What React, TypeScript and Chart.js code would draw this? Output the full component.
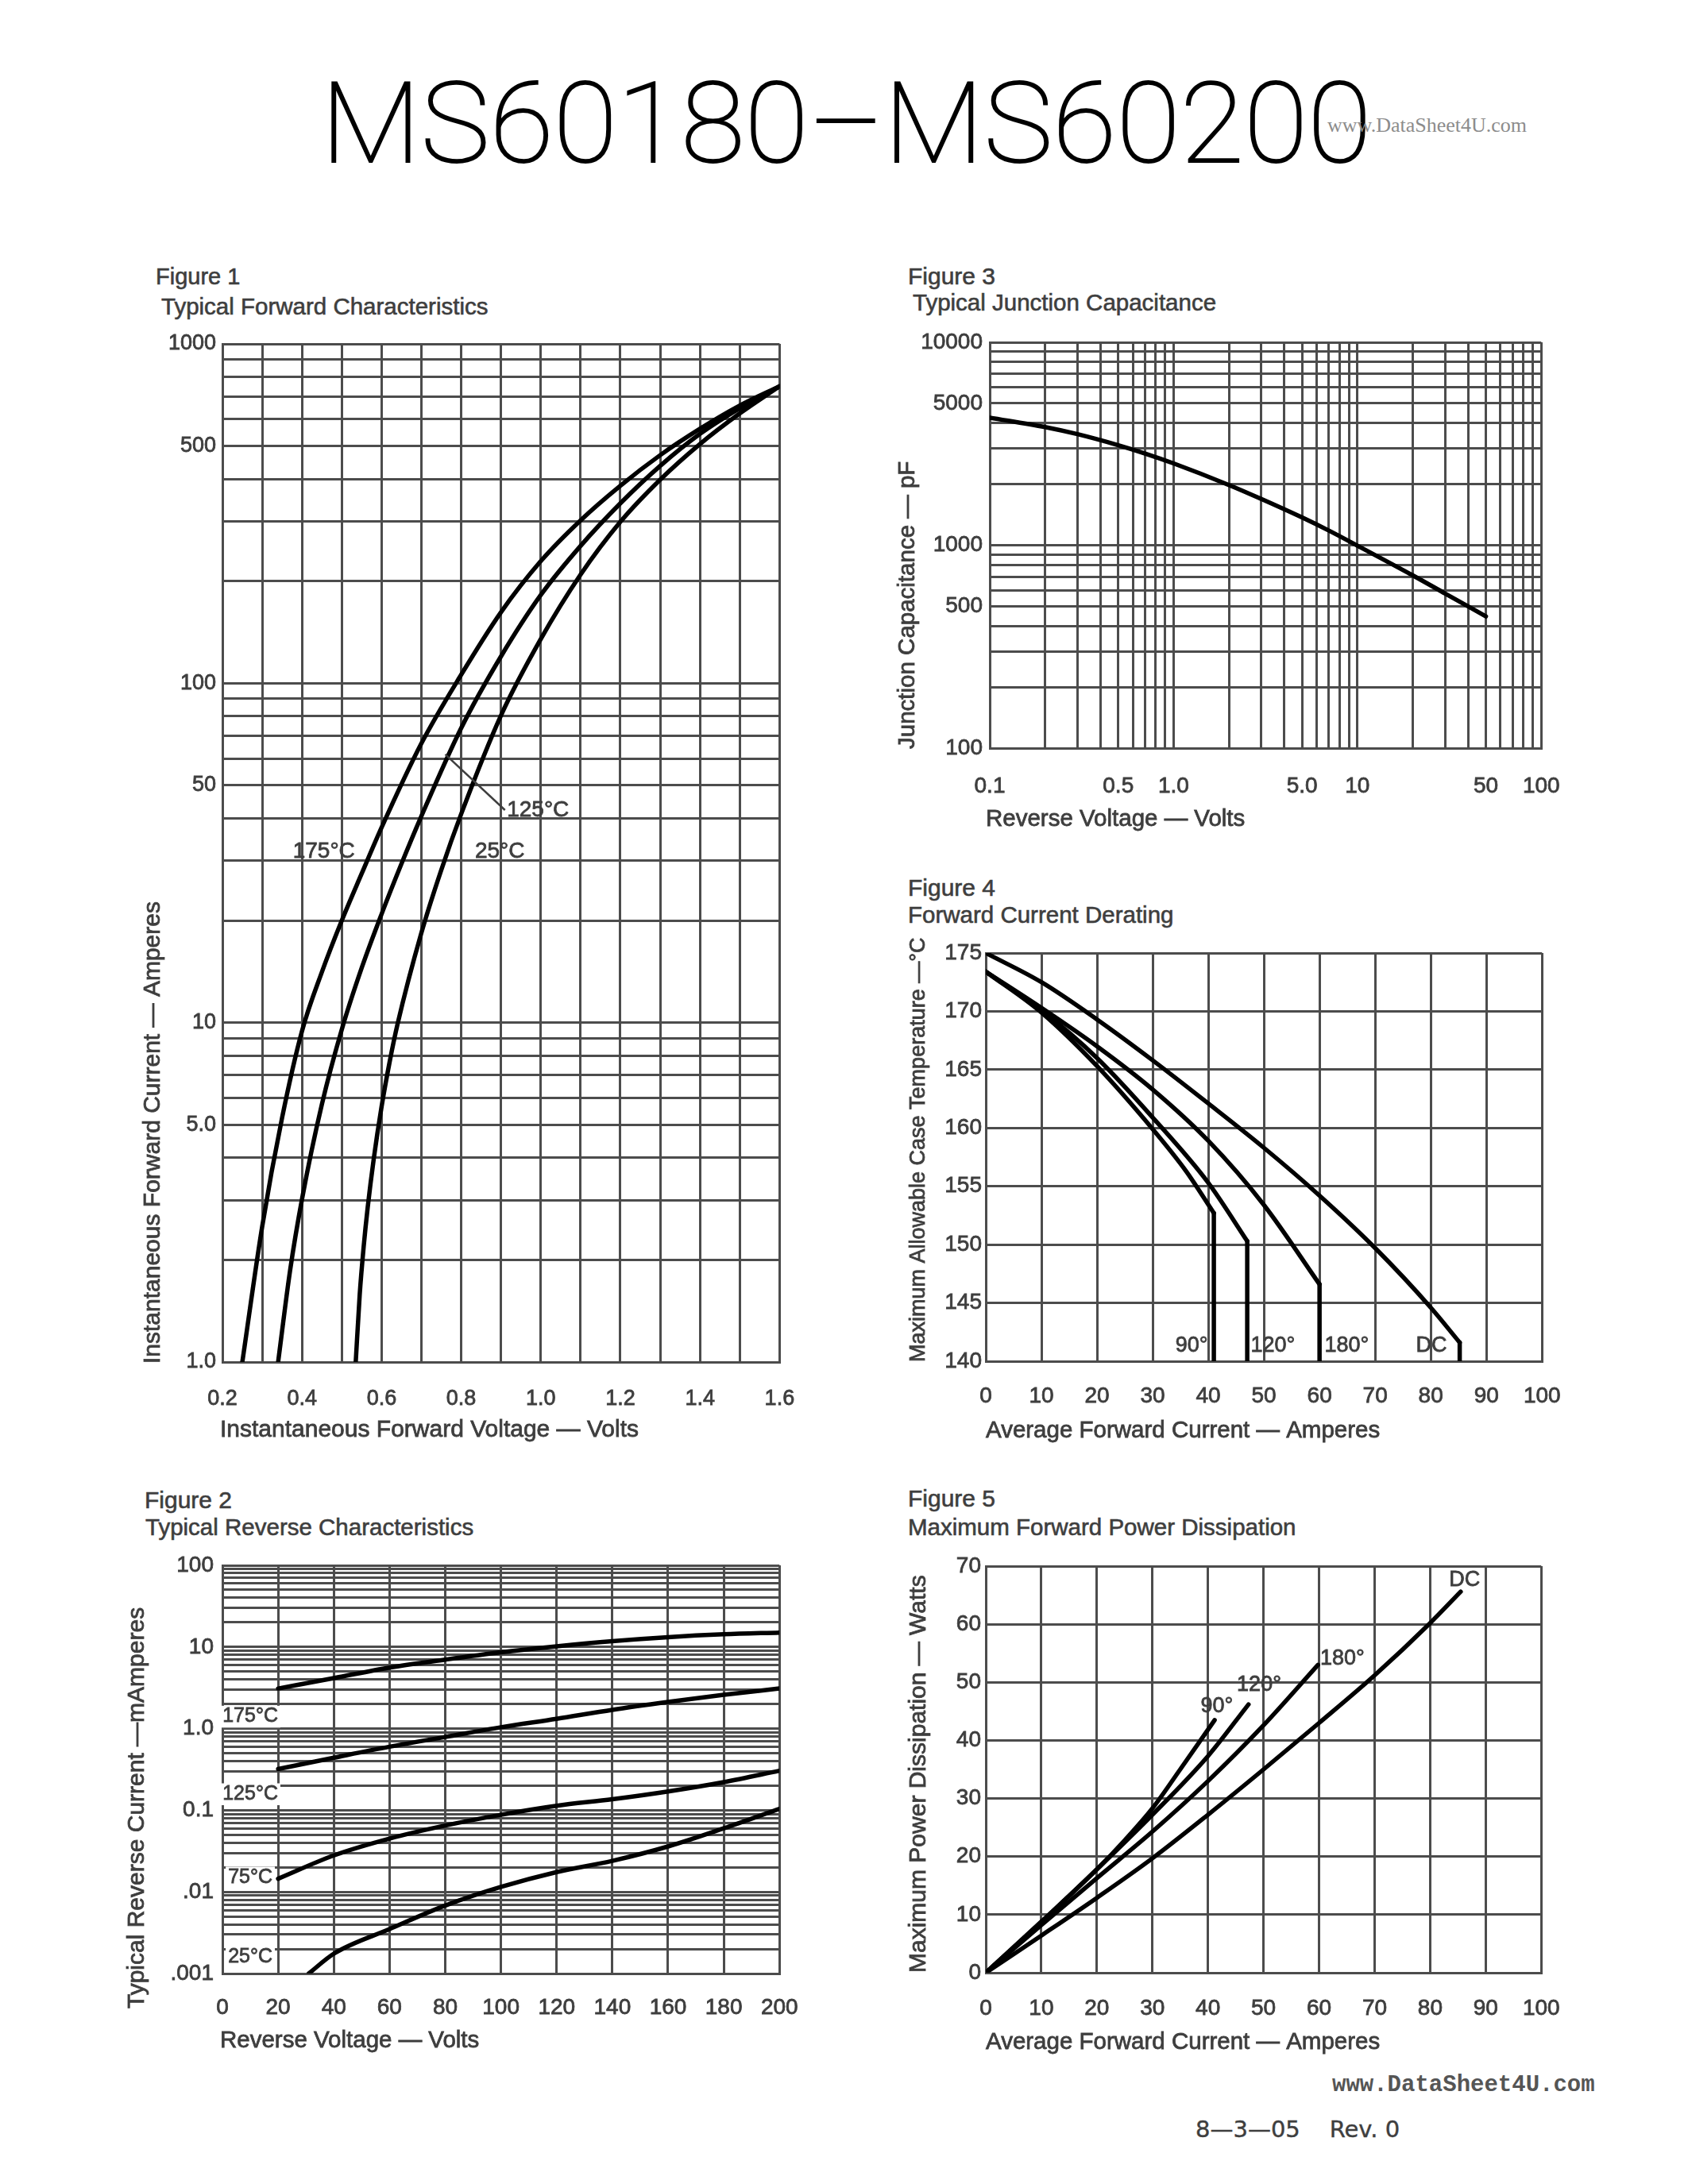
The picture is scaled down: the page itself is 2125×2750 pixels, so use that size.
import React, { useEffect, useLayoutEffect, useRef, useState } from 'react';
import { Chart, registerables } from 'chart.js';

Chart.register(...registerables);

const TEXT = '#3e3e3e';
const GRID = '#4c4c4c';
const CURVE = '#000000';
const SANS = "'Liberation Sans', Arial, Helvetica, sans-serif";
const STROKE = 0.8;

/* ---------- Figure 1 : Typical Forward Characteristics ---------- */
const fig1XTickValues = [0.2, 0.4, 0.6, 0.8, 1.0, 1.2, 1.4, 1.6];
const fig1XTickLabels = ['0.2', '0.4', '0.6', '0.8', '1.0', '1.2', '1.4', '1.6'];
const fig1YTickValues = [1, 5, 10, 50, 100, 500, 1000];
const fig1YTickLabels = ['1.0', '5.0', '10', '50', '100', '500', '1000'];
const fwdV175 = [0.25, 0.3, 0.35, 0.4, 0.45, 0.5, 0.55, 0.6, 0.7, 0.8, 0.9, 1.0, 1.1, 1.2, 1.3, 1.4, 1.5, 1.6];
const fwdI175 = [1.0, 2.51, 5.25, 9.45, 14.1, 20, 27.5, 37.6, 66.5, 106, 162, 229, 302, 382, 470, 562, 658, 750];
const fwdV125 = [0.34, 0.37, 0.4, 0.45, 0.5, 0.55, 0.6, 0.65, 0.7, 0.8, 0.9, 1.0, 1.1, 1.2, 1.3, 1.4, 1.5, 1.6];
const fwdI125 = [1.0, 1.86, 3.02, 5.75, 9.55, 14.5, 20.9, 29.4, 40.6, 73.8, 120, 182, 254, 339, 437, 543, 646, 750];
const fwdV25 = [0.535, 0.545, 0.555, 0.565, 0.58, 0.6, 0.62, 0.64, 0.7, 0.75, 0.8, 0.9, 1.0, 1.1, 1.2, 1.3, 1.4, 1.5, 1.6];
const fwdI25 = [1.0, 1.58, 2.19, 2.85, 3.95, 5.66, 7.64, 9.89, 18.4, 28.2, 41.2, 80.4, 135, 209, 299, 398, 507, 624, 750];
const fig1LabelText = ['175°C', '25°C', '125°C'];
const fig1LabelX = [0.455, 0.897, 0.915];
const fig1LabelY = [32, 32, 42.3];
const fig1LeaderX = [0.76, 0.91];
const fig1LeaderY = [61.7, 42.3];

/* ---------- Figure 2 : Typical Reverse Characteristics ---------- */
const fig2XTickValues = [0, 20, 40, 60, 80, 100, 120, 140, 160, 180, 200];
const fig2XTickLabels = ['0', '20', '40', '60', '80', '100', '120', '140', '160', '180', '200'];
const fig2YTickValues = [0.001, 0.01, 0.1, 1, 10, 100];
const fig2YTickLabels = ['.001', '.01', '0.1', '1.0', '10', '100'];
const revV = [20, 40, 60, 80, 100, 120, 140, 160, 180, 200];
const rev175 = [3.1, 4.15, 5.6, 7.0, 8.6, 10.2, 11.8, 13.2, 14.3, 15.0];
const rev125 = [0.32, 0.44, 0.6, 0.79, 1.04, 1.32, 1.7, 2.12, 2.6, 3.1];
const rev75 = [0.0145, 0.028, 0.045, 0.065, 0.088, 0.1135, 0.1365, 0.17, 0.221, 0.305];
const revV25 = [31, 40, 60, 80, 100, 120, 140, 160, 180, 200];
const rev25 = [0.001, 0.00175, 0.0035, 0.0068, 0.0115, 0.0175, 0.024, 0.036, 0.06, 0.104];
const fig2LabelText = ['175°C', '125°C', '75°C', '25°C'];
const fig2LabelX = [10, 10, 10, 10];
const fig2LabelY = [1.4, 0.157, 0.015, 0.0016];

/* ---------- Figure 3 : Typical Junction Capacitance ---------- */
const fig3XTickValues = [0.1, 0.5, 1, 5, 10, 50, 100];
const fig3XTickLabels = ['0.1', '0.5', '1.0', '5.0', '10', '50', '100'];
const fig3YTickValues = [100, 500, 1000, 5000, 10000];
const fig3YTickLabels = ['100', '500', '1000', '5000', '10000'];
const capV = [0.1, 0.2, 0.3, 0.5, 0.7, 1.0, 2.0, 3.0, 5.0, 7.0, 10, 20, 30, 50];
const capPF = [4250, 3820, 3525, 3110, 2830, 2530, 1980, 1690, 1370, 1180, 995, 710, 578, 446];

/* ---------- Figure 4 : Forward Current Derating ---------- */
const fig4XTickValues = [0, 10, 20, 30, 40, 50, 60, 70, 80, 90, 100];
const fig4XTickLabels = ['0', '10', '20', '30', '40', '50', '60', '70', '80', '90', '100'];
const fig4YTickValues = [140, 145, 150, 155, 160, 165, 170, 175];
const fig4YTickLabels = ['140', '145', '150', '155', '160', '165', '170', '175'];
const derX90 = [0, 10, 20, 30, 36, 41];
const derT90 = [173.4, 169.9, 165.3, 159.9, 156.3, 152.7];
const derX120 = [0, 10, 20, 30, 40, 47];
const derT120 = [173.4, 170.1, 166.0, 160.9, 155.3, 150.3];
const derX180 = [0, 10, 20, 30, 40, 50, 60];
const derT180 = [173.4, 170.3, 167.0, 163.3, 158.9, 153.4, 146.6];
const derXDC = [0, 10, 20, 30, 40, 50, 60, 70, 80, 85.2];
const derTDC = [175, 172.5, 169.3, 165.8, 162.1, 158.3, 154.2, 149.7, 144.6, 141.6];
const fig4LabelText = ['90°', '120°', '180°', 'DC'];
const fig4LabelX = [37, 51.6, 64.9, 80.1];
const fig4LabelY = [141.3, 141.3, 141.3, 141.3];

/* ---------- Figure 5 : Maximum Forward Power Dissipation ---------- */
const fig5XTickValues = [0, 10, 20, 30, 40, 50, 60, 70, 80, 90, 100];
const fig5XTickLabels = ['0', '10', '20', '30', '40', '50', '60', '70', '80', '90', '100'];
const fig5YTickValues = [0, 10, 20, 30, 40, 50, 60, 70];
const fig5YTickLabels = ['0', '10', '20', '30', '40', '50', '60', '70'];
const pwrX90 = [0, 10, 20, 25, 30, 35, 41.2];
const pwrW90 = [0, 8.8, 17.8, 22.8, 28.3, 35.0, 43.5];
const pwrX120 = [0, 10, 20, 30, 40, 47.3];
const pwrW120 = [0, 8.7, 17.8, 27.2, 37.3, 46.2];
const pwrX180 = [0, 10, 20, 30, 40, 50, 59.8];
const pwrW180 = [0, 8.2, 16.3, 24.3, 33.0, 42.6, 53.0];
const pwrXDC = [0, 10, 20, 30, 40, 50, 60, 70, 80, 85.5];
const pwrWDC = [0, 6.4, 12.9, 19.7, 27.2, 35.0, 43.0, 51.2, 60.2, 65.6];
const fig5LabelText = ['90°', '120°', '180°', 'DC'];
const fig5LabelX = [41.6, 49.2, 64.2, 86.2];
const fig5LabelY = [45.8, 49.5, 54.1, 67.6];

/* ---------- helpers ---------- */
function linGrid(min: number, max: number, step: number) {
  const out: number[] = [];
  const n = Math.round((max - min) / step);
  for (let i = 0; i <= n; i++) out.push(Math.round((min + i * step) * 1e6) / 1e6);
  return out;
}
function logGrid(minExp: number, maxExp: number) {
  const out: number[] = [];
  for (let e = minExp; e < maxExp; e++) {
    for (let m = 1; m < 10; m++) out.push(parseFloat((m * Math.pow(10, e)).toPrecision(6)));
  }
  out.push(parseFloat(Math.pow(10, maxExp).toPrecision(6)));
  return out;
}
const last = (a: number[]) => a[a.length - 1];

type AxisSpec = {
  type: 'linear' | 'logarithmic';
  min: number;
  max: number;
  grid: number[];
  ticks: number[];
  labels: string[];
};
type TitleSpec = { text: string; size: number; a: number; b: number };
type Series = { xs: number[]; ys: number[]; smooth: boolean };
type Mark = { text: string; x: number; y: number; align: CanvasTextAlign; size: number; box?: boolean };
type Leader = { xs: number[]; ys: number[] };
type FigSpec = {
  id: string;
  plot: { L: number; T: number; R: number; B: number };
  yAxisW: number;
  xAxisH: number;
  padTop: number;
  padRight: number;
  yTickRight: number;
  xTickCenterY: number;
  tickSize: number;
  x: AxisSpec;
  y: AxisSpec;
  xTitle: TitleSpec; // a = left x, b = center y (page px)
  yTitle: TitleSpec; // a = center x, b = bottom y where text starts (page px)
  series: Series[];
  marks: Mark[];
  leaders: Leader[];
};

function marksFrom(text: string[], xs: number[], ys: number[], align: CanvasTextAlign[], size: number, box = false): Mark[] {
  return text.map((t, i) => ({ text: t, x: xs[i], y: ys[i], align: align[i], size, box }));
}

const fig1: FigSpec = {
  id: 'fig1',
  plot: { L: 280, T: 433, R: 985, B: 1715 },
  yAxisW: 120, xAxisH: 115, padTop: 30, padRight: 45,
  yTickRight: 272, xTickCenterY: 1757, tickSize: 27,
  x: { type: 'linear', min: 0.2, max: 1.6, grid: linGrid(0.2, 1.6, 0.1), ticks: fig1XTickValues, labels: fig1XTickLabels },
  y: { type: 'logarithmic', min: 1, max: 1000, grid: logGrid(0, 3), ticks: fig1YTickValues, labels: fig1YTickLabels },
  xTitle: { text: 'Instantaneous Forward Voltage — Volts', size: 30, a: 277, b: 1801 },
  yTitle: { text: 'Instantaneous Forward Current — Amperes', size: 30, a: 193, b: 1717 },
  series: [
    { xs: fwdV175, ys: fwdI175, smooth: true },
    { xs: fwdV125, ys: fwdI125, smooth: true },
    { xs: fwdV25, ys: fwdI25, smooth: true },
  ],
  marks: marksFrom(fig1LabelText, fig1LabelX, fig1LabelY, ['center', 'center', 'left'], 28),
  leaders: [{ xs: fig1LeaderX, ys: fig1LeaderY }],
};

const fig2: FigSpec = {
  id: 'fig2',
  plot: { L: 280, T: 1971, R: 986, B: 2485 },
  yAxisW: 130, xAxisH: 115, padTop: 30, padRight: 45,
  yTickRight: 269, xTickCenterY: 2524, tickSize: 28,
  x: { type: 'linear', min: 0, max: 200, grid: linGrid(0, 200, 20), ticks: fig2XTickValues, labels: fig2XTickLabels },
  y: { type: 'logarithmic', min: 0.001, max: 100, grid: logGrid(-3, 2), ticks: fig2YTickValues, labels: fig2YTickLabels },
  xTitle: { text: 'Reverse Voltage — Volts', size: 29.5, a: 277, b: 2570 },
  yTitle: { text: 'Typical Reverse Current —mAmperes', size: 30, a: 173, b: 2529 },
  series: [
    { xs: revV, ys: rev175, smooth: true },
    { xs: revV, ys: rev125, smooth: true },
    { xs: revV, ys: rev75, smooth: true },
    { xs: revV25, ys: rev25, smooth: true },
  ],
  marks: marksFrom(fig2LabelText, fig2LabelX, fig2LabelY, ['center', 'center', 'center', 'center'], 25, true),
  leaders: [],
};

const fig3: FigSpec = {
  id: 'fig3',
  plot: { L: 1246, T: 431, R: 1950, B: 942 },
  yAxisW: 125, xAxisH: 120, padTop: 30, padRight: 45,
  yTickRight: 1237, xTickCenterY: 986, tickSize: 28,
  x: { type: 'logarithmic', min: 0.1, max: 100, grid: logGrid(-1, 2), ticks: fig3XTickValues, labels: fig3XTickLabels },
  y: { type: 'logarithmic', min: 100, max: 10000, grid: logGrid(2, 4), ticks: fig3YTickValues, labels: fig3YTickLabels },
  xTitle: { text: 'Reverse Voltage — Volts', size: 29.5, a: 1241, b: 1032 },
  yTitle: { text: 'Junction Capacitance — pF', size: 29.5, a: 1143, b: 943 },
  series: [{ xs: capV, ys: capPF, smooth: true }],
  marks: [],
  leaders: [],
};

const fig4YMin = fig4YTickValues[0];
const fig4: FigSpec = {
  id: 'fig4',
  plot: { L: 1241, T: 1200, R: 1947, B: 1714 },
  yAxisW: 110, xAxisH: 116, padTop: 45, padRight: 45,
  yTickRight: 1236, xTickCenterY: 1754, tickSize: 28,
  x: { type: 'linear', min: 0, max: 100, grid: linGrid(0, 100, 10), ticks: fig4XTickValues, labels: fig4XTickLabels },
  y: { type: 'linear', min: 140, max: 175, grid: linGrid(140, 175, 5), ticks: fig4YTickValues, labels: fig4YTickLabels },
  xTitle: { text: 'Average Forward Current — Amperes', size: 29.5, a: 1241, b: 1802 },
  yTitle: { text: 'Maximum Allowable Case Temperature —°C', size: 27, a: 1157, b: 1715 },
  series: [
    { xs: derX90, ys: derT90, smooth: true },
    { xs: [last(derX90), last(derX90)], ys: [last(derT90), fig4YMin], smooth: false },
    { xs: derX120, ys: derT120, smooth: true },
    { xs: [last(derX120), last(derX120)], ys: [last(derT120), fig4YMin], smooth: false },
    { xs: derX180, ys: derT180, smooth: true },
    { xs: [last(derX180), last(derX180)], ys: [last(derT180), fig4YMin], smooth: false },
    { xs: derXDC, ys: derTDC, smooth: true },
    { xs: [last(derXDC), last(derXDC)], ys: [last(derTDC), fig4YMin], smooth: false },
  ],
  marks: marksFrom(fig4LabelText, fig4LabelX, fig4LabelY, ['center', 'center', 'center', 'center'], 27),
  leaders: [],
};

const fig5: FigSpec = {
  id: 'fig5',
  plot: { L: 1241, T: 1972, R: 1947, B: 2484 },
  yAxisW: 110, xAxisH: 116, padTop: 30, padRight: 45,
  yTickRight: 1235, xTickCenterY: 2525, tickSize: 28,
  x: { type: 'linear', min: 0, max: 100, grid: linGrid(0, 100, 10), ticks: fig5XTickValues, labels: fig5XTickLabels },
  y: { type: 'linear', min: 0, max: 70, grid: linGrid(0, 70, 10), ticks: fig5YTickValues, labels: fig5YTickLabels },
  xTitle: { text: 'Average Forward Current — Amperes', size: 29.5, a: 1241, b: 2572 },
  yTitle: { text: 'Maximum Power Dissipation — Watts', size: 30, a: 1157, b: 2484 },
  series: [
    { xs: pwrX90, ys: pwrW90, smooth: true },
    { xs: pwrX120, ys: pwrW120, smooth: true },
    { xs: pwrX180, ys: pwrW180, smooth: true },
    { xs: pwrXDC, ys: pwrWDC, smooth: true },
  ],
  marks: marksFrom(fig5LabelText, fig5LabelX, fig5LabelY, ['center', 'center', 'center', 'center'], 27),
  leaders: [],
};

const FIGS = [fig1, fig2, fig3, fig4, fig5];

function tickText(ax: AxisSpec, v: number) {
  const i = ax.ticks.findIndex((t) => Math.abs(t - v) <= 1e-9 * Math.max(1, Math.abs(t)));
  return i >= 0 ? ax.labels[i] : '';
}

function canvasBox(s: FigSpec) {
  return {
    x: s.plot.L - s.yAxisW,
    y: s.plot.T - s.padTop,
    w: s.yAxisW + (s.plot.R - s.plot.L) + s.padRight,
    h: s.padTop + (s.plot.B - s.plot.T) + s.xAxisH,
  };
}

function axisOptions(ax: AxisSpec, which: 'x' | 'y', s: FigSpec) {
  const isX = which === 'x';
  const tickPad = isX ? s.xTickCenterY - s.plot.B - 0.45 * s.tickSize : s.plot.L - s.yTickRight;
  return {
    type: ax.type,
    position: isX ? 'bottom' : 'left',
    min: ax.min,
    max: ax.max,
    afterBuildTicks: (scale: any) => {
      scale.ticks = ax.grid.map((v) => ({ value: v }));
    },
    afterFit: (scale: any) => {
      if (isX) scale.height = s.xAxisH;
      else scale.width = s.yAxisW;
    },
    grid: { color: GRID, lineWidth: 3, drawTicks: false },
    border: { display: true, color: GRID, width: 3 },
    ticks: {
      autoSkip: false,
      maxRotation: 0,
      minRotation: 0,
      padding: tickPad,
      color: TEXT,
      textStrokeColor: TEXT,
      textStrokeWidth: STROKE,
      font: { family: SANS, size: s.tickSize },
      callback: (v: any) => tickText(ax, Number(v)),
    },
    title: { display: false },
  };
}

function drawText(ctx: CanvasRenderingContext2D, text: string, x: number, y: number) {
  ctx.fillText(text, x, y);
  ctx.strokeText(text, x, y);
}

function marksPlugin(s: FigSpec) {
  const box = canvasBox(s);
  return {
    id: 'marks_' + s.id,
    afterDraw(chart: any) {
      const { ctx } = chart;
      ctx.save();
      ctx.fillStyle = TEXT;
      ctx.strokeStyle = TEXT;
      ctx.lineWidth = STROKE;
      ctx.font = `${s.xTitle.size}px ${SANS}`;
      ctx.textAlign = 'left';
      ctx.textBaseline = 'middle';
      drawText(ctx, s.xTitle.text, s.xTitle.a - box.x, s.xTitle.b - box.y);
      ctx.save();
      ctx.font = `${s.yTitle.size}px ${SANS}`;
      ctx.translate(s.yTitle.a - box.x, s.yTitle.b - box.y);
      ctx.rotate(-Math.PI / 2);
      ctx.textAlign = 'left';
      ctx.textBaseline = 'middle';
      drawText(ctx, s.yTitle.text, 0, 0);
      ctx.restore();
      ctx.restore();
    },
    afterDatasetsDraw(chart: any) {
      const { ctx } = chart;
      const xs = chart.scales.x;
      const ys = chart.scales.y;
      ctx.save();
      for (const l of s.leaders) {
        ctx.strokeStyle = TEXT;
        ctx.lineWidth = 2.5;
        ctx.beginPath();
        l.xs.forEach((xv, i) => {
          const px = xs.getPixelForValue(xv);
          const py = ys.getPixelForValue(l.ys[i]);
          if (i === 0) ctx.moveTo(px, py);
          else ctx.lineTo(px, py);
        });
        ctx.stroke();
      }
      for (const m of s.marks) {
        const px = xs.getPixelForValue(m.x);
        const py = ys.getPixelForValue(m.y);
        ctx.font = `${m.size}px ${SANS}`;
        ctx.textAlign = m.align;
        ctx.textBaseline = 'middle';
        if (m.box) {
          const w = ctx.measureText(m.text).width;
          const x0 = m.align === 'center' ? px - w / 2 : m.align === 'right' ? px - w : px;
          ctx.fillStyle = '#ffffff';
          ctx.fillRect(x0 - 3, py - m.size * 0.55, w + 6, m.size * 1.1);
        }
        ctx.fillStyle = TEXT;
        ctx.strokeStyle = TEXT;
        ctx.lineWidth = STROKE;
        drawText(ctx, m.text, px, py);
      }
      ctx.restore();
    },
  };
}

function buildConfig(s: FigSpec): any {
  return {
    type: 'line',
    data: {
      datasets: s.series.map((se) => ({
        data: se.xs.map((x, i) => ({ x, y: se.ys[i] })),
        borderColor: CURVE,
        borderWidth: 5.5,
        pointRadius: 0,
        pointHoverRadius: 0,
        fill: false,
        tension: 0,
        cubicInterpolationMode: se.smooth ? 'monotone' : 'default',
        borderCapStyle: 'round',
        borderJoinStyle: 'round',
      })),
    },
    options: {
      responsive: false,
      maintainAspectRatio: false,
      animation: false,
      devicePixelRatio: 1,
      events: [],
      layout: { padding: { top: s.padTop, right: s.padRight, left: 0, bottom: 0 } },
      plugins: { legend: { display: false }, tooltip: { enabled: false }, title: { display: false } },
      scales: { x: axisOptions(s.x, 'x', s), y: axisOptions(s.y, 'y', s) },
    },
    plugins: [marksPlugin(s)],
  };
}

function FigureChart({ spec }: { spec: FigSpec }) {
  const ref = useRef<HTMLCanvasElement>(null);
  const box = canvasBox(spec);
  useEffect(() => {
    if (!ref.current) return;
    const chart = new Chart(ref.current, buildConfig(spec));
    return () => chart.destroy();
  }, [spec]);
  return (
    <canvas
      ref={ref}
      width={box.w}
      height={box.h}
      style={{ position: 'absolute', left: box.x, top: box.y, width: box.w, height: box.h }}
    />
  );
}

/* ---------- page texts ---------- */
type PageText = { text: string; left: number; cy: number; size: number; family: string; color: string; weight?: number; k: number; stroke?: number };
const pageTexts: PageText[] = [
  { text: 'Figure 1', left: 196, cy: 348, size: 29, family: SANS, color: TEXT, k: 0.488, stroke: 0.6 },
  { text: 'Typical Forward Characteristics', left: 203, cy: 385, size: 29.5, family: SANS, color: TEXT, k: 0.488, stroke: 0.6 },
  { text: 'Figure 3', left: 1143, cy: 348, size: 30, family: SANS, color: TEXT, k: 0.488, stroke: 0.6 },
  { text: 'Typical Junction Capacitance', left: 1149, cy: 380, size: 29.5, family: SANS, color: TEXT, k: 0.488, stroke: 0.6 },
  { text: 'Figure 4', left: 1143, cy: 1118, size: 30, family: SANS, color: TEXT, k: 0.488, stroke: 0.6 },
  { text: 'Forward Current Derating', left: 1143, cy: 1151, size: 29.5, family: SANS, color: TEXT, k: 0.488, stroke: 0.6 },
  { text: 'Figure 2', left: 182, cy: 1889, size: 30, family: SANS, color: TEXT, k: 0.488, stroke: 0.6 },
  { text: 'Typical Reverse Characteristics', left: 183, cy: 1922, size: 29.5, family: SANS, color: TEXT, k: 0.488, stroke: 0.6 },
  { text: 'Figure 5', left: 1143, cy: 1887, size: 30, family: SANS, color: TEXT, k: 0.488, stroke: 0.6 },
  { text: 'Maximum Forward Power Dissipation', left: 1143, cy: 1922, size: 29.5, family: SANS, color: TEXT, k: 0.488, stroke: 0.6 },
  { text: 'www.DataSheet4U.com', left: 1671, cy: 158, size: 26, family: "'Liberation Serif', 'Times New Roman', serif", color: '#8c8c8c', k: 0.5 },
  { text: 'www.DataSheet4U.com', left: 1677, cy: 2624, size: 29, family: "'Liberation Mono', 'Courier New', monospace", color: '#555555', weight: 700, k: 0.44 },
  { text: '8—3—05    Rev. 0', left: 1505, cy: 2681, size: 29, family: "'DejaVu Sans', sans-serif", color: TEXT, k: 0.48, stroke: 0.4 },
];

const TITLE_TEXT = 'MS60180–MS60200';
const TITLE_ADVANCE = 1322;

function MainTitle() {
  const ref = useRef<HTMLDivElement>(null);
  const [sx, setSx] = useState(1);
  useLayoutEffect(() => {
    if (ref.current) {
      const w = ref.current.offsetWidth;
      if (w > 0) setSx(TITLE_ADVANCE / w);
    }
  }, []);
  return (
    <div
      ref={ref}
      style={{
        position: 'absolute',
        left: 404,
        top: 85,
        fontFamily: 'Roboto, sans-serif',
        fontWeight: 100,
        fontSize: 141,
        lineHeight: '141px',
        color: '#000',
        WebkitTextStroke: '2px #000',
        whiteSpace: 'nowrap',
        transformOrigin: 'left top',
        transform: `scaleX(${sx})`,
      }}
    >
      {TITLE_TEXT}
    </div>
  );
}

export default function App() {
  useEffect(() => {
    document.body.style.margin = '0';
    document.body.style.background = '#ffffff';
  }, []);
  return (
    <div style={{ position: 'absolute', left: 0, top: 0, width: 2125, height: 2750, background: '#ffffff', overflow: 'hidden' }}>
      <MainTitle />
      {pageTexts.map((t, i) => (
        <div
          key={i}
          style={{
            position: 'absolute',
            left: t.left,
            top: t.cy - t.k * t.size,
            fontFamily: t.family,
            fontSize: t.size,
            lineHeight: `${t.size}px`,
            fontWeight: t.weight ?? 400,
            color: t.color,
            whiteSpace: 'pre',
            WebkitTextStroke: t.stroke ? `${t.stroke}px ${t.color}` : undefined,
          }}
        >
          {t.text}
        </div>
      ))}
      {FIGS.map((f) => (
        <FigureChart key={f.id} spec={f} />
      ))}
    </div>
  );
}
